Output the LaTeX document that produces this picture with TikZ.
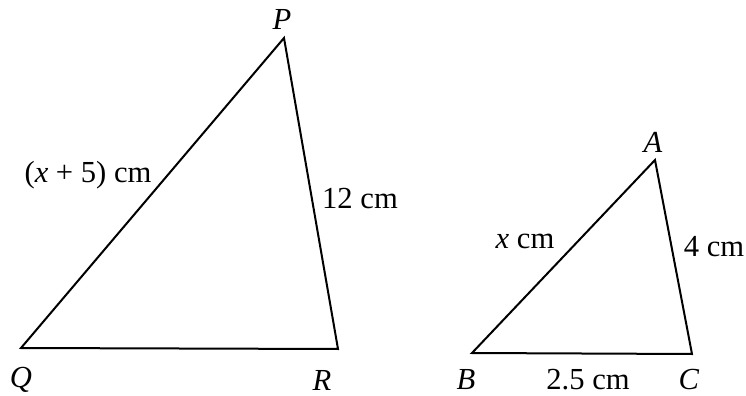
\documentclass[tikz,border=0pt]{standalone}
\usepackage{fontspec}
\setmainfont{Liberation Serif}
\usepackage{tikz}

\tikzset{
  side/.style={line width=1pt, line join=miter},
  lbl/.style={inner sep=0pt, font=\fontsize{15.3}{18}\selectfont}
}

\begin{document}
\begin{tikzpicture}[x=0.5pt, y=-0.5pt]
    \useasboundingbox (0,0) rectangle (746,396);

    % Vertices of the two triangles
    \coordinate (P) at (284,38);
    \coordinate (Q) at (21,348);
    \coordinate (R) at (338,349);
    \coordinate (A) at (655,160);
    \coordinate (B) at (472,353);
    \coordinate (C) at (692,354);

    % Draw the triangles
    \draw[side] (P) -- (Q) -- (R) -- cycle;
    \draw[side] (A) -- (B) -- (C) -- cycle;

    % Vertex names
    \foreach \v/\px/\py in {P/282/19, Q/21/380, R/322/380, A/653/142, B/466/380, C/689/380}
        \node[lbl] (lbl\v) at (\px,\py) {\textit{\v}};

    % Side lengths
    \node[lbl] (sidePQ) at (88,175) {(\textit{x} + 5) cm};
    \node[lbl] (sidePR) at (360,199) {12 cm};
    \node[lbl] (sideAB) at (525,241) {\textit{x} cm};
    \node[lbl] (sideAC) at (714,247) {4 cm};
    \node[lbl] (sideBC) at (588,380) {2.5 cm};
\end{tikzpicture}
\end{document}
